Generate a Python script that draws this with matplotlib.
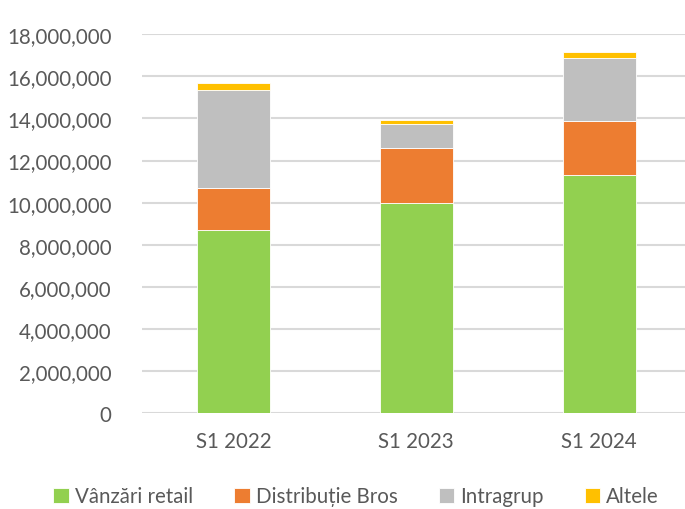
import matplotlib
matplotlib.use('Agg')
import matplotlib.pyplot as plt
from matplotlib.ticker import FuncFormatter
import numpy as np

# values (RON)
periods = ["S1 2022", "S1 2023", "S1 2024"]
retail = [8690000, 10000000, 11330000]
bros = [1990000, 2600000, 2550000]
intragrup = [4670000, 1140000, 2990000]
altele = [320000, 190000, 270000]

series_names = ["Vânzări retail", "Distribuție Bros", "Intragrup", "Altele"]
colors = ["#92D050", "#ED7D31", "#BFBFBF", "#FFC000"]

plt.rcParams['font.family'] = ['Lato', 'DejaVu Sans']

fig = plt.figure(figsize=(6.85, 5.1), dpi=100)
ax = fig.add_axes([0.2073, 0.188, 0.7927, 0.743])

x = np.arange(len(periods))
bottom = np.zeros(len(periods))
for vals, name, col in zip([retail, bros, intragrup, altele], series_names, colors):
    ax.bar(x, vals, 0.4, bottom=bottom, color=col, label=name,
           edgecolor="#FFFFFF", linewidth=0.6, zorder=3)
    bottom += np.array(vals)

ax.set_ylim(0, 18000000)
ax.set_yticks(range(0, 18000001, 2000000))
ax.yaxis.set_major_formatter(FuncFormatter(lambda v, p: f"{int(v):,}"))
ax.set_xlim(-0.5, 2.47)
ax.set_xticks(x)
ax.set_xticklabels(periods)

ax.grid(axis="y", color="#D9D9D9", linewidth=1.5, zorder=0)
for s in ax.spines.values():
    s.set_visible(False)
ax.tick_params(axis="both", length=0, labelsize=14.8, colors="#595959")
ax.tick_params(axis="y", pad=22)
ax.tick_params(axis="x", pad=13)

fig.legend(loc="center", bbox_to_anchor=(0.52, 0.025), ncol=4, frameon=False,
           fontsize=14.8, labelcolor="#595959", handlelength=0.75, handleheight=0.75,
           handletextpad=0.3, columnspacing=2.0)

fig.savefig("out.png", dpi=100)
